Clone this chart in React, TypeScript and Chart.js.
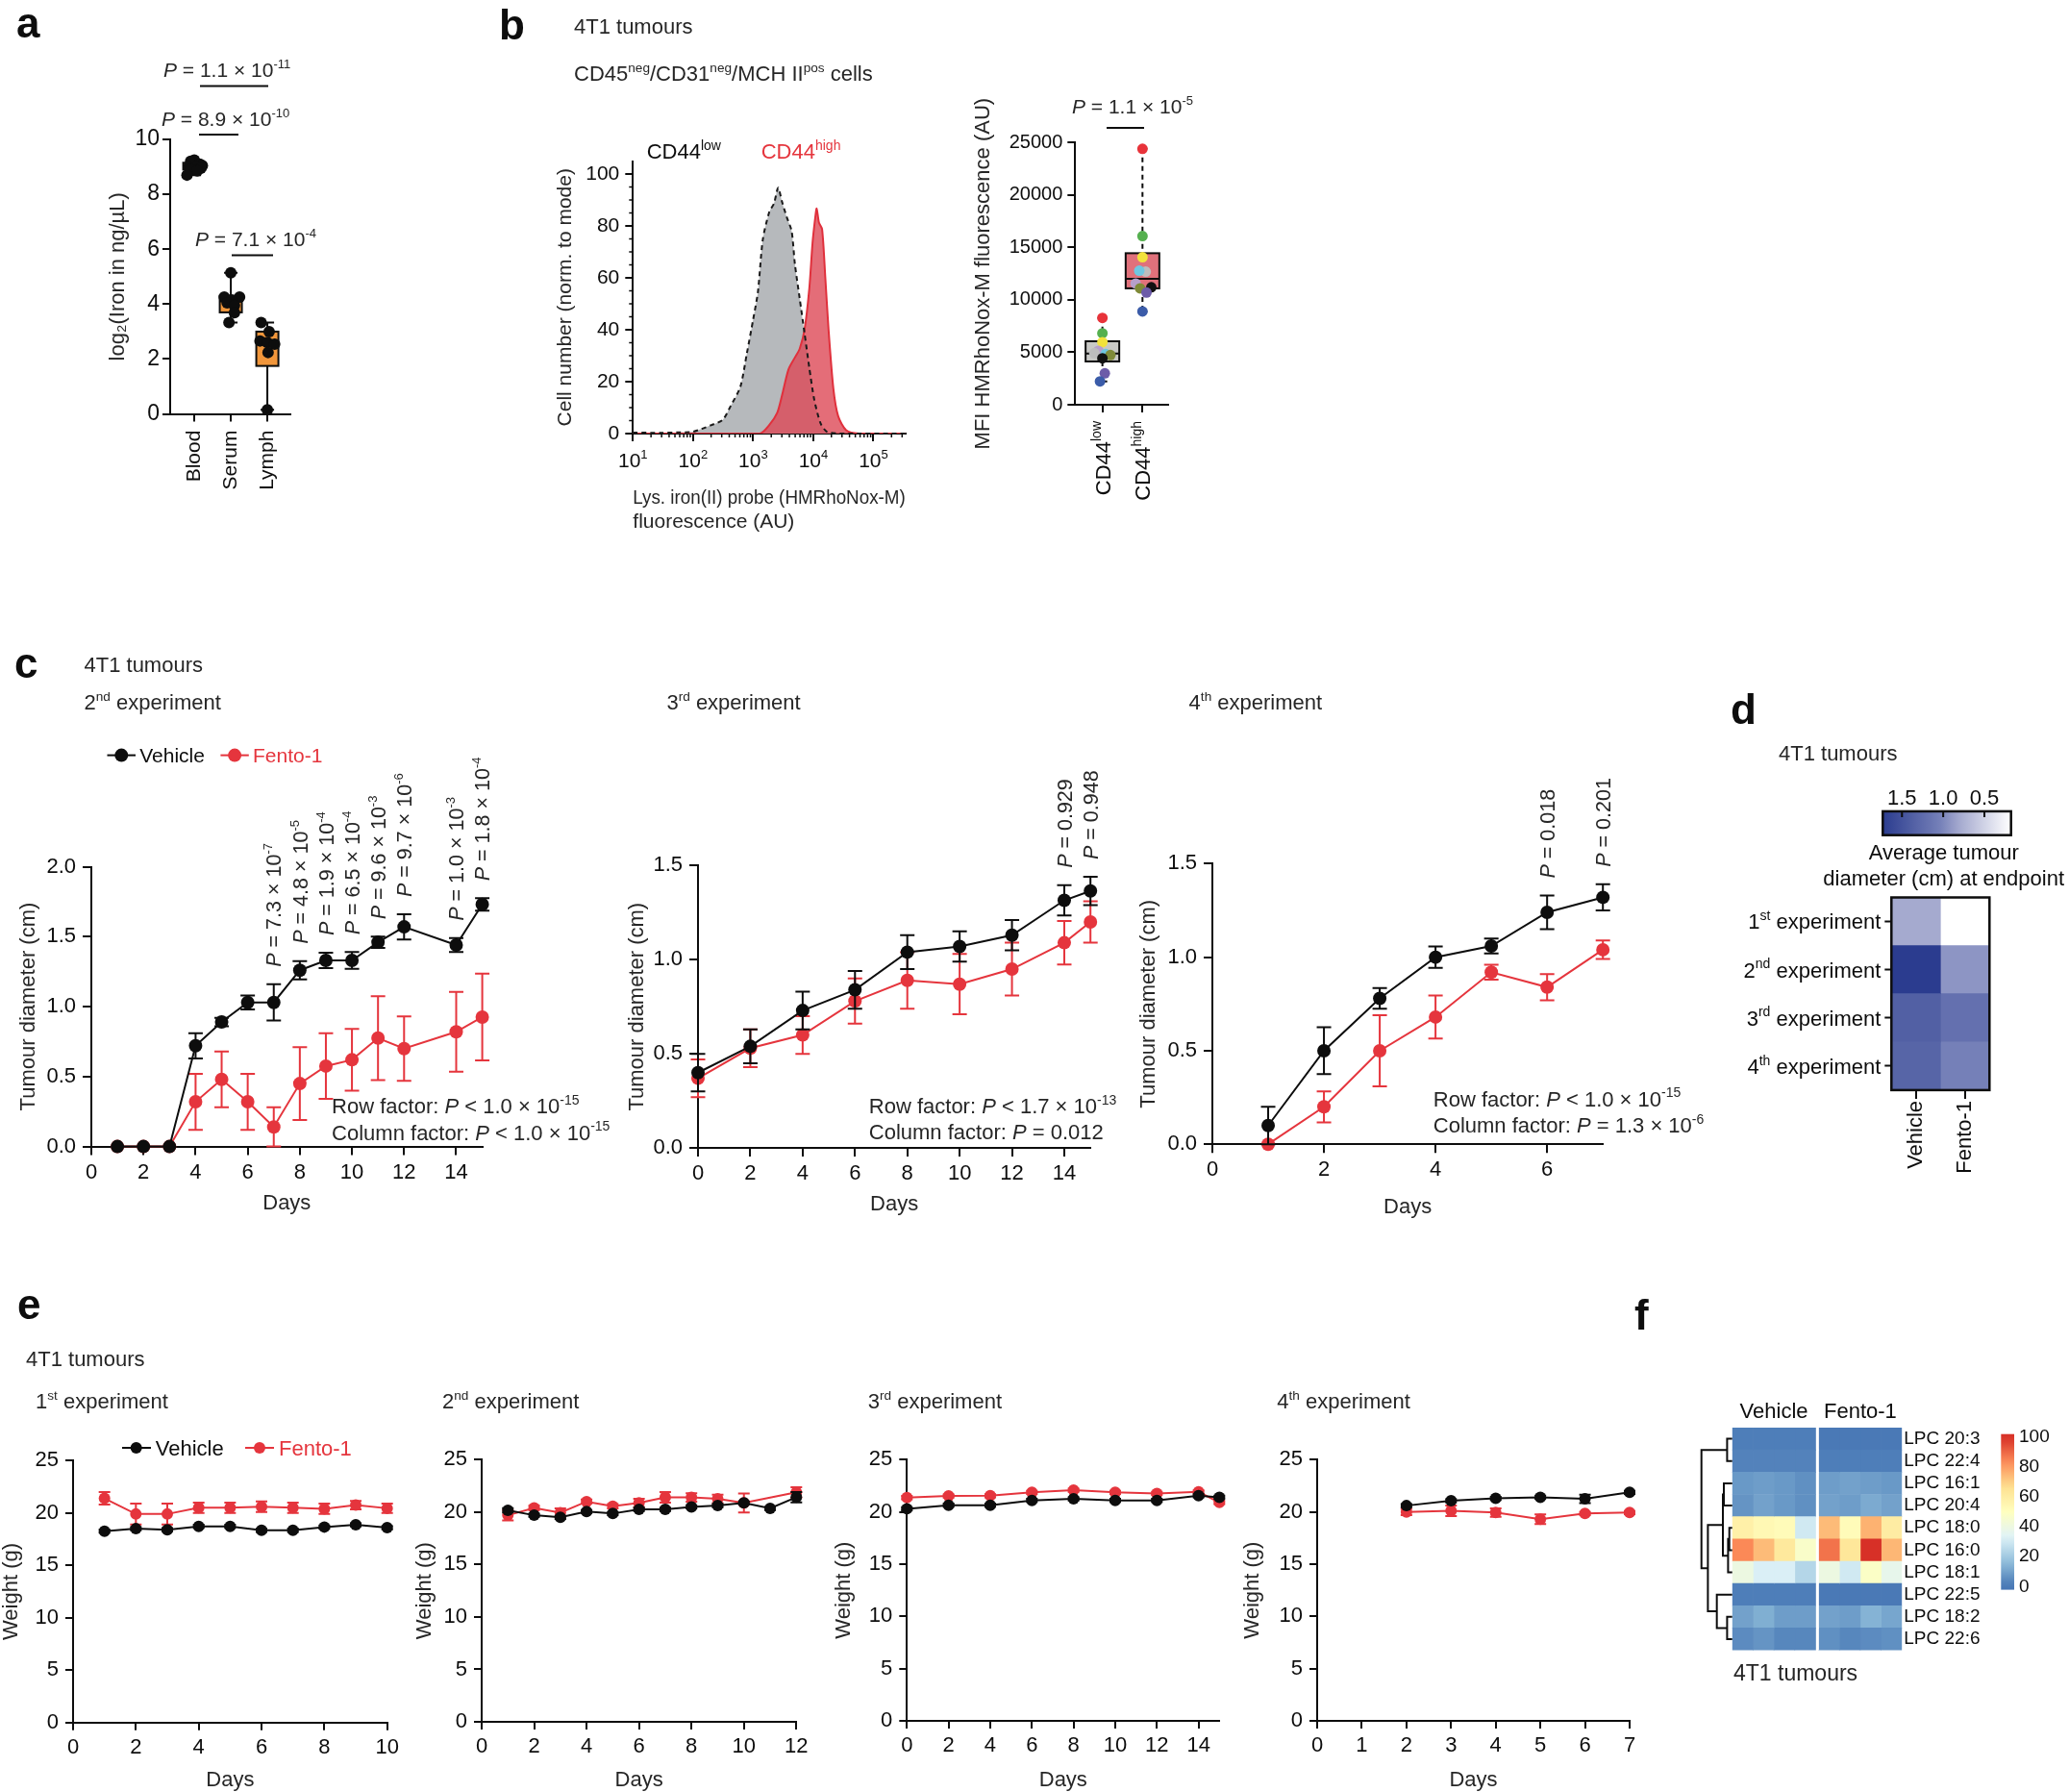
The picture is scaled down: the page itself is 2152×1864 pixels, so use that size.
import React, { useEffect, useRef } from 'react';
import { Chart, registerables } from 'chart.js';

Chart.register(...registerables);

const FONT = '"Liberation Sans", Arial, Helvetica, sans-serif';
Chart.defaults.font.family = FONT;

const INK = '#0d0d0d';
const TXT = '#262626';
const RED = '#E5353D';
const ORANGE = '#F1963B';

/* ================= DATA ================= */
/* ---- panel a ---- */
const aCategories = ['Blood', 'Serum', 'Lymph'];
const aTicksY = [0, 2, 4, 6, 8, 10];
const aBlood = [9.25, 9.2, 9.1, 9.05, 9.0, 9.0, 8.95, 8.9, 8.85, 8.7];
const aBloodJitter = [0, -0.1, 0.15, 0.22, -0.15, 0.05, 0.18, -0.1, 0.08, -0.2];
const aSerum = [5.14, 4.26, 4.26, 4.15, 4.05, 3.95, 3.69, 3.33];
const aSerumJitter = [0, -0.18, 0.24, 0.02, -0.1, 0.1, 0.1, -0.05];
const aLymph = [3.33, 3.0, 2.66, 2.6, 2.54, 2.24, 0.15];
const aLymphJitter = [-0.17, 0.05, -0.2, 0, 0.2, 0.02, 0];
const aQ1 = [8.9, 3.7, 1.75];
const aMedian = [9.02, 4.1, 2.55];
const aQ3 = [9.15, 4.3, 3.0];
const aMin = [8.7, 3.33, 0.15];
const aMax = [9.25, 5.14, 3.33];

/* ---- panel b histogram ---- */
const bHistTicksY = [0, 20, 40, 60, 80, 100];
const bHistDecades = [10, 100, 1000, 10000, 100000];
const bHistDecadeLabels = ['10^{1}', '10^{2}', '10^{3}', '10^{4}', '10^{5}'];
const bLowX = [10, 30, 60, 100, 203, 312, 424, 612, 783, 1000, 1202, 1445, 1849, 2223, 2606, 3020, 3631, 4365, 4943, 5943, 7145, 8590, 10328, 13183, 16866, 27542, 340000];
const bLowY = [0.4, 0.3, 0.5, 0.7, 3.3, 5.3, 10.7, 18, 30.7, 44, 54.7, 74.7, 85.3, 88.7, 94.7, 89.3, 83.3, 78, 65.3, 52, 38.7, 25.3, 13.3, 4, 0.7, 0, 0];
const bHighX = [10, 1279, 1849, 2512, 3020, 3864, 4943, 5943, 7145, 8590, 9705, 10715, 11376, 12417, 14028, 15849, 17947, 21577, 25942, 35237, 57544, 340000];
const bHighY = [0, 0, 3.3, 8, 14.7, 24.7, 29.3, 32.7, 40, 56, 73.3, 82.7, 86.7, 81.3, 78.7, 60, 40, 17.3, 6.7, 1.3, 0, 0];

/* ---- panel b box plot ---- */
const bBoxCats = ['CD44^{low}', 'CD44^{high}'];
const bBoxTicksY = [0, 5000, 10000, 15000, 20000, 25000];
const bDonorColors = ['#E8333A', '#55B04F', '#F2E23C', '#B79FCB', '#BDBDBD', '#6FC7E1', '#7F8A38', '#111111', '#6C5BA8', '#3B5CA9'];
const bLowVals = [8284, 6817, 5963, 5138, 4924, 4832, 4740, 4434, 3000, 2232];
const bLowJitter = [0, 0, 0, -0.1, -0.2, 0.08, 0.2, 0, 0.06, -0.06];
const bHighVals = [24400, 16083, 14064, 11560, 12688, 12780, 11100, 11200, 10700, 8900];
const bHighJitter = [0, 0, 0, -0.17, 0.08, -0.08, -0.06, 0.22, 0.1, 0];
const bQ1 = [4128, 11100];
const bMedian = [4880, 12000];
const bQ3 = [6055, 14450];
const bMin = [2232, 8900];
const bMax = [8284, 24400];

/* ---- panel c : tumour diameter ---- */
const cExp2Days = [1, 2, 3, 4, 5, 6, 7, 8, 9, 10, 11, 12, 14, 15];
const cExp2Vehicle = [0, 0, 0, 0.72, 0.89, 1.03, 1.03, 1.26, 1.33, 1.33, 1.46, 1.57, 1.44, 1.73];
const cExp2VehicleSem = [0, 0, 0, 0.09, 0.03, 0.05, 0.13, 0.065, 0.055, 0.06, 0.04, 0.09, 0.05, 0.045];
const cExp2Fento = [0, 0, 0, 0.32, 0.48, 0.32, 0.14, 0.45, 0.575, 0.62, 0.775, 0.7, 0.82, 0.925];
const cExp2FentoSem = [0, 0, 0, 0.2, 0.2, 0.2, 0.14, 0.26, 0.235, 0.22, 0.3, 0.23, 0.285, 0.31];
const cExp2PDays = [7, 8, 9, 10, 11, 12, 14, 15];
const cExp2P = ['7.3 × 10^{-7}', '4.8 × 10^{-5}', '1.9 × 10^{-4}', '6.5 × 10^{-4}', '9.6 × 10^{-3}', '9.7 × 10^{-6}', '1.0 × 10^{-3}', '1.8 × 10^{-4}'];

const cExp3Days = [0, 2, 4, 6, 8, 10, 12, 14, 15];
const cExp3Vehicle = [0.4, 0.54, 0.73, 0.84, 1.04, 1.07, 1.13, 1.315, 1.365];
const cExp3VehicleSem = [0.1, 0.09, 0.1, 0.1, 0.09, 0.08, 0.08, 0.08, 0.075];
const cExp3Fento = [0.37, 0.53, 0.6, 0.78, 0.89, 0.87, 0.95, 1.09, 1.2];
const cExp3FentoSem = [0.1, 0.1, 0.1, 0.12, 0.15, 0.16, 0.14, 0.115, 0.11];
const cExp3PDays = [14, 15];
const cExp3P = ['0.929', '0.948'];

const cExp4Days = [1, 2, 3, 4, 5, 6, 7];
const cExp4Vehicle = [0.1, 0.5, 0.78, 1.0, 1.06, 1.24, 1.32];
const cExp4VehicleSem = [0.1, 0.125, 0.055, 0.057, 0.04, 0.09, 0.07];
const cExp4Fento = [0, 0.2, 0.5, 0.68, 0.92, 0.84, 1.04];
const cExp4FentoSem = [0, 0.083, 0.19, 0.115, 0.04, 0.07, 0.05];
const cExp4PDays = [6, 7];
const cExp4P = ['0.018', '0.201'];

/* ---- panel d ---- */
const dRows = ['1^{st} experiment', '2^{nd} experiment', '3^{rd} experiment', '4^{th} experiment'];
const dCols = ['Vehicle', 'Fento-1'];
const dVehicle = [0.8, 1.73, 1.37, 1.32];
const dFento = [0.18, 0.92, 1.2, 1.04];
const dScaleTicks = [1.5, 1.0, 0.5];
const dScaleMin = 0.177;
const dScaleMax = 1.733;

/* ---- panel e : body weight ---- */
const eExp1Days = [1, 2, 3, 4, 5, 6, 7, 8, 9, 10];
const eExp1Vehicle = [18.26, 18.5, 18.4, 18.72, 18.72, 18.35, 18.35, 18.66, 18.87, 18.6];
const eExp1VehicleSem = [0.15, 0.15, 0.15, 0.15, 0.15, 0.15, 0.15, 0.15, 0.15, 0.15];
const eExp1Fento = [21.4, 19.9, 19.9, 20.5, 20.5, 20.6, 20.5, 20.4, 20.75, 20.45];
const eExp1FentoSem = [0.6, 1.0, 1.0, 0.5, 0.5, 0.5, 0.5, 0.5, 0.4, 0.45];

const eExp2VehicleDays = [1, 2, 3, 4, 5, 6, 7, 8, 9, 10, 11, 12];
const eExp2Vehicle = [20.17, 19.7, 19.5, 20.05, 19.86, 20.26, 20.26, 20.5, 20.62, 20.87, 20.35, 21.42];
const eExp2VehicleSem = [0.2, 0.15, 0.15, 0.15, 0.15, 0.15, 0.15, 0.15, 0.15, 0.15, 0.15, 0.5];
const eExp2FentoDays = [1, 2, 3, 4, 5, 6, 7, 8, 9, 10, 12];
const eExp2Fento = [19.7, 20.4, 19.95, 21.0, 20.56, 20.87, 21.4, 21.4, 21.26, 20.87, 21.88];
const eExp2FentoSem = [0.5, 0.2, 0.4, 0.2, 0.2, 0.4, 0.5, 0.4, 0.4, 0.9, 0.5];

const eExp3Days = [0, 2, 4, 6, 8, 10, 12, 14, 15];
const eExp3Vehicle = [20.3, 20.64, 20.64, 21.1, 21.25, 21.1, 21.1, 21.55, 21.4];
const eExp3VehicleSem = [0.15, 0.15, 0.15, 0.15, 0.15, 0.15, 0.15, 0.15, 0.15];
const eExp3Fento = [21.37, 21.53, 21.55, 21.87, 22.08, 21.87, 21.77, 21.92, 20.9];
const eExp3FentoSem = [0.15, 0.15, 0.15, 0.15, 0.15, 0.15, 0.15, 0.15, 0.15];

const eExp4Days = [2, 3, 4, 5, 6, 7];
const eExp4Vehicle = [20.6, 21.07, 21.3, 21.4, 21.25, 21.87];
const eExp4VehicleSem = [0.15, 0.15, 0.15, 0.15, 0.4, 0.15];
const eExp4Fento = [20.0, 20.1, 19.94, 19.3, 19.85, 19.94];
const eExp4FentoSem = [0.3, 0.5, 0.4, 0.45, 0.15, 0.15];
const eTicksY = [0, 5, 10, 15, 20, 25];

/* ---- panel f ---- */
const fLipids = ['LPC 20:3', 'LPC 22:4', 'LPC 16:1', 'LPC 20:4', 'LPC 18:0', 'LPC 16:0', 'LPC 18:1', 'LPC 22:5', 'LPC 18:2', 'LPC 22:6'];
const fGroups = ['Vehicle', 'Fento-1'];
const fVehicle = [
  [2, 2, 2, 2], [3, 3, 3, 3], [8, 9, 8, 6], [7, 10, 8, 6], [58, 54, 52, 30],
  [84, 74, 62, 47], [40, 32, 32, 24], [2, 2, 2, 2], [10, 13, 9, 9], [5, 7, 4, 4],
];
const fFento = [
  [1, 1, 1, 1], [2, 2, 2, 2], [9, 10, 9, 8], [10, 9, 12, 10], [74, 52, 76, 60],
  [88, 63, 100, 75], [40, 30, 48, 37], [1, 1, 1, 1], [10, 9, 14, 11], [6, 4, 5, 6],
];
const fScaleTicks = [0, 20, 40, 60, 80, 100];
const fMerges: [number, number, number][] = [
  [0, 1, 4.3], [2, 3, 7.7], [4, 5, 2.0], [12, 6, 3.3], [11, 13, 8.7], [8, 9, 4.3], [7, 15, 15], [14, 16, 24.3], [10, 17, 31],
];

/* ================= COLOUR RAMPS ================= */
const dRamp: [number, string][] = [[0.177, '#FFFFFF'], [0.8, '#A5AACF'], [1.04, '#7580B8'], [1.733, '#2B3C8F']];
const fRamp: [number, string][] = [[0, '#4575B4'], [16.67, '#91BFDB'], [33.33, '#E0F3F8'], [50, '#FFFFBF'], [66.67, '#FEE090'], [83.33, '#FC8D59'], [100, '#D73027']];

function hexRgb(h: string) {
  const n = parseInt(h.slice(1), 16);
  return [(n >> 16) & 255, (n >> 8) & 255, n & 255];
}
function ramp(stops: [number, string][], v: number) {
  if (v <= stops[0][0]) return stops[0][1];
  if (v >= stops[stops.length - 1][0]) return stops[stops.length - 1][1];
  for (let i = 0; i < stops.length - 1; i++) {
    const [v0, c0] = stops[i];
    const [v1, c1] = stops[i + 1];
    if (v >= v0 && v <= v1) {
      const t = (v - v0) / (v1 - v0);
      const a = hexRgb(c0), b = hexRgb(c1);
      return `rgb(${Math.round(a[0] + (b[0] - a[0]) * t)},${Math.round(a[1] + (b[1] - a[1]) * t)},${Math.round(a[2] + (b[2] - a[2]) * t)})`;
    }
  }
  return stops[0][1];
}

/* ================= RICH TEXT ================= */
type Seg = { t: string; sup?: boolean; sub?: boolean; it?: boolean };
function parseRich(s: string): Seg[] {
  const segs: Seg[] = [];
  let it = false;
  let buf = '';
  let i = 0;
  const push = () => { if (buf) { segs.push({ t: buf, it }); buf = ''; } };
  while (i < s.length) {
    const c = s[i];
    if (c === '*') { push(); it = !it; i++; continue; }
    if ((c === '^' || c === '_') && s[i + 1] === '{') {
      push();
      const end = s.indexOf('}', i + 2);
      segs.push({ t: s.slice(i + 2, end), it, sup: c === '^', sub: c === '_' });
      i = end + 1;
      continue;
    }
    buf += c;
    i++;
  }
  push();
  return segs;
}
interface RichOpts { size: number; color?: string; align?: 'left' | 'center' | 'right'; rot?: number; bold?: boolean }
function drawRich(ctx: CanvasRenderingContext2D, s: string, x: number, y: number, o: RichOpts) {
  const segs = parseRich(s);
  const size = o.size;
  const fontFor = (sg: Seg) => `${sg.it ? 'italic ' : ''}${o.bold ? 'bold ' : ''}${sg.sup || sg.sub ? Math.round(size * 0.62) : size}px ${FONT}`;
  ctx.save();
  ctx.translate(x, y);
  if (o.rot) ctx.rotate(o.rot);
  let total = 0;
  const widths = segs.map((sg) => { ctx.font = fontFor(sg); const w = ctx.measureText(sg.t).width; total += w; return w; });
  let cx = o.align === 'center' ? -total / 2 : o.align === 'right' ? -total : 0;
  ctx.fillStyle = o.color || INK;
  ctx.textBaseline = 'alphabetic';
  ctx.textAlign = 'left';
  const base = size * 0.36;
  segs.forEach((sg, k) => {
    ctx.font = fontFor(sg);
    const dy = sg.sup ? -size * 0.42 : sg.sub ? size * 0.22 : 0;
    ctx.fillText(sg.t, cx, base + dy);
    cx += widths[k];
  });
  ctx.restore();
}

/* ================= PLUGINS ================= */
interface TextItem extends RichOpts { t: string; x: number; y: number }
interface LineItem { x1: number; y1: number; x2: number; y2: number; color?: string; w?: number; dash?: number[] }
interface DotItem { x: number; y: number; r: number; color: string }
interface Annot { texts?: TextItem[]; lines?: LineItem[]; dots?: DotItem[] }

function annotPlugin(ox: number, oy: number, a: Annot) {
  return {
    id: 'annot',
    afterDraw(chart: any) {
      const ctx = chart.ctx as CanvasRenderingContext2D;
      (a.lines || []).forEach((l) => {
        ctx.save();
        ctx.strokeStyle = l.color || INK;
        ctx.lineWidth = l.w || 2;
        ctx.setLineDash(l.dash || []);
        ctx.beginPath();
        ctx.moveTo(l.x1 - ox, l.y1 - oy);
        ctx.lineTo(l.x2 - ox, l.y2 - oy);
        ctx.stroke();
        ctx.restore();
      });
      (a.dots || []).forEach((d) => {
        ctx.save();
        ctx.fillStyle = d.color;
        ctx.beginPath();
        ctx.arc(d.x - ox, d.y - oy, d.r, 0, Math.PI * 2);
        ctx.fill();
        ctx.restore();
      });
      (a.texts || []).forEach((t) => drawRich(ctx, t.t, t.x - ox, t.y - oy, t));
    },
  };
}

function errPlugin(errs: number[][], cap: number) {
  return {
    id: 'errbars',
    beforeDatasetDraw(chart: any, args: any) {
      const i = args.index;
      const e = errs[i];
      if (!e) return;
      const meta = chart.getDatasetMeta(i);
      const ds = chart.data.datasets[i];
      const ys = chart.scales.y;
      const ctx = chart.ctx as CanvasRenderingContext2D;
      ctx.save();
      ctx.strokeStyle = ds.borderColor;
      ctx.lineWidth = 2;
      meta.data.forEach((pt: any, k: number) => {
        const err = e[k];
        if (!err) return;
        const v = ds.data[k].y;
        const yTop = ys.getPixelForValue(v + err);
        const clipped = v - err < ys.min;
        const yBot = ys.getPixelForValue(Math.max(v - err, ys.min));
        ctx.beginPath();
        ctx.moveTo(pt.x, yTop);
        ctx.lineTo(pt.x, yBot);
        ctx.moveTo(pt.x - cap, yTop);
        ctx.lineTo(pt.x + cap, yTop);
        if (!clipped) {
          ctx.moveTo(pt.x - cap, yBot);
          ctx.lineTo(pt.x + cap, yBot);
        }
        ctx.stroke();
      });
      ctx.restore();
    },
  };
}

interface Series { label: string; days: number[]; vals: number[]; errs: number[]; color: string }

function pLabelPlugin(days: number[], texts: string[], size: number, gap: number, series: Series[]) {
  return {
    id: 'plabels',
    afterDatasetsDraw(chart: any) {
      const xs = chart.scales.x, ys = chart.scales.y;
      const ctx = chart.ctx as CanvasRenderingContext2D;
      days.forEach((d, i) => {
        let top = Infinity;
        series.forEach((s) => s.days.forEach((sd, k) => {
          if (sd === d) top = Math.min(top, ys.getPixelForValue(s.vals[k] + s.errs[k]));
        }));
        drawRich(ctx, `*P* = ${texts[i]}`, xs.getPixelForValue(d), top - gap, { size, rot: -Math.PI / 2, align: 'left', color: TXT });
      });
    },
  };
}

interface BoxSpec { pos: number; q1: number; med: number; q3: number; lo: number; hi: number; fill: string; dash: number[] }
function boxPlugin(boxes: BoxSpec[], halfW: number, capHalf: number) {
  return {
    id: 'boxes',
    beforeDatasetsDraw(chart: any) {
      const xs = chart.scales.x, ys = chart.scales.y;
      const ctx = chart.ctx as CanvasRenderingContext2D;
      boxes.forEach((b) => {
        const x = xs.getPixelForValue(b.pos);
        const y = (v: number) => ys.getPixelForValue(v);
        ctx.save();
        ctx.strokeStyle = INK;
        ctx.lineWidth = 2;
        ctx.setLineDash(b.dash);
        ctx.beginPath();
        ctx.moveTo(x, y(b.hi)); ctx.lineTo(x, y(b.q3));
        ctx.moveTo(x, y(b.q1)); ctx.lineTo(x, y(b.lo));
        ctx.stroke();
        ctx.setLineDash([]);
        ctx.beginPath();
        ctx.moveTo(x - capHalf, y(b.hi)); ctx.lineTo(x + capHalf, y(b.hi));
        ctx.moveTo(x - capHalf, y(b.lo)); ctx.lineTo(x + capHalf, y(b.lo));
        ctx.stroke();
        ctx.fillStyle = b.fill;
        ctx.fillRect(x - halfW, y(b.q3), 2 * halfW, y(b.q1) - y(b.q3));
        ctx.strokeRect(x - halfW, y(b.q3), 2 * halfW, y(b.q1) - y(b.q3));
        ctx.beginPath();
        ctx.moveTo(x - halfW, y(b.med)); ctx.lineTo(x + halfW, y(b.med));
        ctx.stroke();
        ctx.restore();
      });
    },
  };
}

/* ================= LAYOUT HELPERS ================= */
interface Geo { cx: number; cy: number; cw: number; ch: number; l: number; t: number; r: number; b: number; yTitleX?: number; xTitleY?: number; tsize: number }
function frame(g: Geo) {
  const lh = g.tsize * 1.2;
  const padL = g.yTitleX !== undefined ? g.yTitleX - g.cx - lh / 2 : 0;
  const wy = g.l - g.cx - padL;
  const bottomEdge = g.xTitleY !== undefined ? g.xTitleY + lh / 2 : g.cy + g.ch;
  return {
    padding: { left: padL, top: g.t - g.cy, right: g.cx + g.cw - g.r, bottom: g.cy + g.ch - bottomEdge },
    wy,
    hx: bottomEdge - g.b,
  };
}
function baseOpts(padding: any) {
  return {
    animation: false,
    responsive: false,
    maintainAspectRatio: false,
    events: [],
    layout: { padding },
    plugins: { legend: { display: false }, tooltip: { enabled: false } },
  };
}
interface AxisOpts {
  type?: string; pos?: string; min: number; max: number; ticks: number[]; size: number;
  fmt?: (v: number, i: number) => string; title?: string | string[]; titleSize?: number; titleAlign?: string;
  fitW?: number; fitH?: number; tickLen?: number; pad?: number; rot?: number; reverse?: boolean; border?: boolean; drawTicks?: boolean; stacked?: boolean; gridDisplay?: boolean;
}
function mkAxis(o: AxisOpts) {
  return {
    type: o.type || 'linear',
    position: o.pos,
    min: o.min,
    max: o.max,
    reverse: !!o.reverse,
    stacked: !!o.stacked,
    afterBuildTicks: (s: any) => { s.ticks = o.ticks.map((v) => ({ value: v })); },
    afterFit: (s: any) => {
      if (o.fitW !== undefined) s.width = o.fitW;
      if (o.fitH !== undefined) s.height = o.fitH;
    },
    border: { display: o.border !== false, color: INK, width: 2 },
    grid: { display: o.gridDisplay !== false, drawOnChartArea: false, drawTicks: o.drawTicks !== false, tickLength: o.tickLen ?? 8, tickColor: INK, tickWidth: 2, color: INK, lineWidth: 2 },
    ticks: {
      color: INK,
      font: { family: FONT, size: o.size },
      padding: o.pad ?? 3,
      autoSkip: false,
      maxRotation: o.rot ?? 0,
      minRotation: o.rot ?? 0,
      callback: (v: number, i: number) => (o.fmt ? o.fmt(v, i) : String(v)),
    },
    title: o.title
      ? { display: true, text: o.title, color: TXT, align: o.titleAlign || 'center', padding: 0, font: { family: FONT, size: o.titleSize || o.size, lineHeight: 1.2 } }
      : { display: false },
  };
}

/* ================= CHART CONFIGS ================= */
function growthChart(o: {
  geo: Geo; xMax: number; xTicks: number[]; yMax: number; yTicks: number[]; yDigits: number; yTitle: string;
  tickSize: number; tickPadY: number; tickPadX: number; tickLen: number; series: Series[]; pDays?: number[]; pTexts?: string[]; pSize?: number; pGap?: number; annot: Annot; radius: number; cap: number;
}) {
  const f = frame(o.geo);
  const plugins: any[] = [errPlugin(o.series.map((s) => s.errs), o.cap)];
  if (o.pDays && o.pTexts) plugins.push(pLabelPlugin(o.pDays, o.pTexts, o.pSize || 20, o.pGap ?? 15, o.series));
  plugins.push(annotPlugin(o.geo.cx, o.geo.cy, o.annot));
  return {
    type: 'line',
    data: {
      datasets: o.series.map((s, i) => ({
        label: s.label,
        data: s.days.map((d, k) => ({ x: d, y: s.vals[k] })),
        borderColor: s.color,
        backgroundColor: s.color,
        pointBackgroundColor: s.color,
        pointBorderColor: s.color,
        pointRadius: o.radius,
        pointBorderWidth: 0,
        borderWidth: 2,
        tension: 0,
        clip: false,
        fill: false,
        order: i,
      })),
    },
    options: {
      ...baseOpts(f.padding),
      scales: {
        x: mkAxis({ min: 0, max: o.xMax, ticks: o.xTicks, size: o.tickSize, pad: o.tickPadX, tickLen: o.tickLen, title: 'Days', titleSize: o.geo.tsize, fitH: f.hx }),
        y: mkAxis({ min: 0, max: o.yMax, ticks: o.yTicks, size: o.tickSize, pad: o.tickPadY, tickLen: o.tickLen, fmt: (v) => v.toFixed(o.yDigits), title: o.yTitle, titleSize: o.geo.tsize, fitW: f.wy }),
      },
    },
    plugins,
  };
}

const GEO_A: Geo = { cx: 0, cy: 50, cw: 340, ch: 510, l: 177, t: 145, r: 302, b: 430.6, yTitleX: 123, tsize: 22 };
function panelA() {
  const f = frame(GEO_A);
  const pts = [
    ...aBlood.map((v, i) => ({ x: 0 + aBloodJitter[i], y: v })),
    ...aSerum.map((v, i) => ({ x: 1 + aSerumJitter[i], y: v })),
    ...aLymph.map((v, i) => ({ x: 2 + aLymphJitter[i], y: v })),
  ];
  const boxes: BoxSpec[] = aQ1.map((q, i) => ({ pos: i, q1: q, med: aMedian[i], q3: aQ3[i], lo: aMin[i], hi: aMax[i], fill: ORANGE, dash: [] }));
  const annot: Annot = {
    texts: [
      { t: '*P* = 1.1 × 10^{-11}', x: 170, y: 72.5, size: 21, color: TXT },
      { t: '*P* = 8.9 × 10^{-10}', x: 168, y: 123, size: 21, color: TXT },
      { t: '*P* = 7.1 × 10^{-4}', x: 203, y: 248, size: 21, color: TXT },
    ],
    lines: [
      { x1: 208, y1: 89.5, x2: 279, y2: 89.5 },
      { x1: 207, y1: 140, x2: 248, y2: 140 },
      { x1: 241, y1: 265.5, x2: 284, y2: 265.5 },
    ],
  };
  return {
    type: 'scatter',
    data: { datasets: [{ data: pts, pointRadius: 6, pointBackgroundColor: INK, pointBorderWidth: 0, clip: false }] },
    options: {
      ...baseOpts(f.padding),
      scales: {
        x: mkAxis({ min: -0.66, max: 2.63, ticks: [0, 1, 2], size: 21, fmt: (_v, i) => aCategories[i], rot: 90, pad: 9, fitH: f.hx }),
        y: mkAxis({ min: 0, max: 10, ticks: aTicksY, size: 23, title: 'log₂(Iron in ng/µL)', titleSize: 22, fitW: f.wy }),
      },
    },
    plugins: [boxPlugin(boxes, 11.5, 7), annotPlugin(GEO_A.cx, GEO_A.cy, annot)],
  };
}

const GEO_BH: Geo = { cx: 560, cy: 100, cw: 420, ch: 460, l: 658.3, t: 167.5, r: 941.7, b: 451, yTitleX: 588, xTitleY: 543.4, tsize: 21 };
function panelBHist() {
  const f = frame(GEO_BH);
  const low = bLowX.map((x, i) => ({ x, y: bLowY[i] }));
  const high = bHighX.map((x, i) => ({ x, y: bHighY[i] }));
  const extras = {
    id: 'histExtras',
    afterDraw(chart: any) {
      const xs = chart.scales.x, ys = chart.scales.y;
      const ctx = chart.ctx as CanvasRenderingContext2D;
      const { left, bottom } = chart.chartArea;
      ctx.save();
      ctx.strokeStyle = INK;
      ctx.lineWidth = 1.5;
      ctx.beginPath();
      bHistDecades.forEach((d) => {
        for (let k = 2; k <= 9; k++) {
          const v = k * d;
          if (v > xs.max) break;
          const x = xs.getPixelForValue(v);
          ctx.moveTo(x, bottom);
          ctx.lineTo(x, bottom + 4);
        }
      });
      for (let v = 5; v <= 100; v += 5) {
        if (v % 20 === 0) continue;
        const y = ys.getPixelForValue(v);
        ctx.moveTo(left, y);
        ctx.lineTo(left - 4, y);
      }
      ctx.stroke();
      ctx.restore();
      bHistDecades.forEach((d, i) => drawRich(ctx, bHistDecadeLabels[i], xs.getPixelForValue(d), bottom + 27, { size: 21, align: 'center', color: INK }));
    },
  };
  const annot: Annot = {
    texts: [
      { t: 'CD44^{low}', x: 672.7, y: 157, size: 22, color: INK },
      { t: 'CD44^{high}', x: 791.7, y: 157, size: 22, color: RED },
    ],
  };
  return {
    type: 'line',
    data: {
      datasets: [
        { data: low, borderColor: '#1a1a1a', borderDash: [5, 4], borderWidth: 2, pointRadius: 0, fill: false, tension: 0.25, order: 0, clip: false },
        { data: high, borderColor: '#E0303C', backgroundColor: 'rgba(221,72,86,0.8)', borderWidth: 2, fill: 'origin', pointRadius: 0, tension: 0.25, order: 1 },
        { data: low, borderWidth: 0, borderColor: 'rgba(0,0,0,0)', backgroundColor: '#B6B9BC', fill: 'origin', pointRadius: 0, tension: 0.25, order: 2 },
      ],
    },
    options: {
      ...baseOpts(f.padding),
      scales: {
        x: mkAxis({ type: 'logarithmic', min: 10, max: 340000, ticks: bHistDecades, size: 21, fmt: () => '', title: ['Lys. iron(II) probe (HMRhoNox-M)', 'fluorescence (AU)'], titleSize: 21, titleAlign: 'start', fitH: f.hx }),
        y: mkAxis({ min: 0, max: 105, ticks: bHistTicksY, size: 21, pad: 6, title: 'Cell number (norm. to mode)', titleSize: 21, fitW: f.wy }),
      },
    },
    plugins: [extras, annotPlugin(GEO_BH.cx, GEO_BH.cy, annot)],
  };
}

const GEO_BB: Geo = { cx: 990, cy: 80, cw: 262, ch: 460, l: 1118.3, t: 148.3, r: 1215, b: 421, yTitleX: 1023.3, tsize: 22 };
function panelBBox() {
  const f = frame(GEO_BB);
  const pts = [
    ...bLowVals.map((v, i) => ({ x: 0 + bLowJitter[i], y: v })),
    ...bHighVals.map((v, i) => ({ x: 1 + bHighJitter[i], y: v })),
  ];
  const colors = [...bDonorColors, ...bDonorColors];
  const boxes: BoxSpec[] = bQ1.map((q, i) => ({ pos: i, q1: q, med: bMedian[i], q3: bQ3[i], lo: bMin[i], hi: bMax[i], fill: i === 0 ? '#C9C9C6' : '#E0717B', dash: [5, 4] }));
  const catLabels = {
    id: 'catLabels',
    afterDraw(chart: any) {
      const xs = chart.scales.x;
      const ctx = chart.ctx as CanvasRenderingContext2D;
      bBoxCats.forEach((c, i) => drawRich(ctx, c, xs.getPixelForValue(i), chart.chartArea.bottom + 17, { size: 22, rot: -Math.PI / 2, align: 'right', color: INK }));
    },
  };
  const annot: Annot = {
    texts: [{ t: '*P* = 1.1 × 10^{-5}', x: 1115, y: 110, size: 21, color: TXT }],
    lines: [{ x1: 1151, y1: 133, x2: 1190, y2: 133 }],
  };
  return {
    type: 'scatter',
    data: { datasets: [{ data: pts, pointRadius: 5.5, pointBackgroundColor: colors, pointBorderWidth: 0, clip: false }] },
    options: {
      ...baseOpts(f.padding),
      scales: {
        x: mkAxis({ min: -0.68, max: 1.64, ticks: [0, 1], size: 21, fmt: () => '', fitH: f.hx }),
        y: mkAxis({ min: 0, max: 25000, ticks: bBoxTicksY, size: 20, pad: 5, title: 'MFI HMRhoNox-M fluorescence (AU)', titleSize: 22, fitW: f.wy }),
      },
    },
    plugins: [boxPlugin(boxes, 17.5, 5), catLabels, annotPlugin(GEO_BB.cx, GEO_BB.cy, annot)],
  };
}

const GEO_C1: Geo = { cx: 0, cy: 740, cw: 660, ch: 530, l: 95, t: 901.5, r: 501.6, b: 1192.6, yTitleX: 29.5, xTitleY: 1251.7, tsize: 22 };
const GEO_C2: Geo = { cx: 645, cy: 740, cw: 540, ch: 530, l: 726, t: 900.3, r: 1134.2, b: 1194.1, yTitleX: 663.4, xTitleY: 1252.5, tsize: 22 };
const GEO_C3: Geo = { cx: 1175, cy: 740, cw: 615, ch: 530, l: 1261, t: 898.4, r: 1667.2, b: 1190.2, yTitleX: 1195.3, xTitleY: 1255.6, tsize: 22 };

function panelC1() {
  const series: Series[] = [
    { label: 'Vehicle', days: cExp2Days, vals: cExp2Vehicle, errs: cExp2VehicleSem, color: INK },
    { label: 'Fento-1', days: cExp2Days, vals: cExp2Fento, errs: cExp2FentoSem, color: RED },
  ];
  return growthChart({
    geo: GEO_C1, xMax: 15, xTicks: [0, 2, 4, 6, 8, 10, 12, 14], yMax: 2, yTicks: [0, 0.5, 1, 1.5, 2], yDigits: 1, yTitle: 'Tumour diameter (cm)',
    tickSize: 22, tickPadY: 7, tickPadX: 5, tickLen: 9, series, pDays: cExp2PDays, pTexts: cExp2P, pSize: 21.5, pGap: 18, radius: 7, cap: 7.5,
    annot: {
      lines: [{ x1: 111.5, y1: 785.6, x2: 141, y2: 785.6, color: INK }, { x1: 229.4, y1: 785.6, x2: 258.8, y2: 785.6, color: RED }],
      dots: [{ x: 126.3, y: 785.6, r: 7, color: INK }, { x: 244.1, y: 785.6, r: 7, color: RED }],
      texts: [
        { t: 'Vehicle', x: 145.2, y: 785.6, size: 21, color: INK },
        { t: 'Fento-1', x: 263, y: 785.6, size: 21, color: RED },
        { t: 'Row factor: *P* < 1.0 × 10^{-15}', x: 345.1, y: 1150.5, size: 22, color: TXT },
        { t: 'Column factor: *P* < 1.0 × 10^{-15}', x: 345.1, y: 1177.8, size: 22, color: TXT },
      ],
    },
  });
}
function panelC2() {
  const series: Series[] = [
    { label: 'Vehicle', days: cExp3Days, vals: cExp3Vehicle, errs: cExp3VehicleSem, color: INK },
    { label: 'Fento-1', days: cExp3Days, vals: cExp3Fento, errs: cExp3FentoSem, color: RED },
  ];
  return growthChart({
    geo: GEO_C2, xMax: 15, xTicks: [0, 2, 4, 6, 8, 10, 12, 14], yMax: 1.5, yTicks: [0, 0.5, 1, 1.5], yDigits: 1, yTitle: 'Tumour diameter (cm)',
    tickSize: 22, tickPadY: 7, tickPadX: 5, tickLen: 9, series, pDays: cExp3PDays, pTexts: cExp3P, pSize: 21.5, pGap: 18, radius: 7, cap: 7.5,
    annot: {
      texts: [
        { t: 'Row factor: *P* < 1.7 × 10^{-13}', x: 903.8, y: 1150.5, size: 22, color: TXT },
        { t: 'Column factor: *P* = 0.012', x: 903.8, y: 1176.6, size: 22, color: TXT },
      ],
    },
  });
}
function panelC3() {
  const series: Series[] = [
    { label: 'Vehicle', days: cExp4Days, vals: cExp4Vehicle, errs: cExp4VehicleSem, color: INK },
    { label: 'Fento-1', days: cExp4Days, vals: cExp4Fento, errs: cExp4FentoSem, color: RED },
  ];
  return growthChart({
    geo: GEO_C3, xMax: 7, xTicks: [0, 2, 4, 6], yMax: 1.5, yTicks: [0, 0.5, 1, 1.5], yDigits: 1, yTitle: 'Tumour diameter (cm)',
    tickSize: 22, tickPadY: 7, tickPadX: 5, tickLen: 9, series, pDays: cExp4PDays, pTexts: cExp4P, pSize: 21.5, pGap: 18, radius: 7, cap: 7.5,
    annot: {
      texts: [
        { t: 'Row factor: *P* < 1.0 × 10^{-15}', x: 1490.8, y: 1142.8, size: 22, color: TXT },
        { t: 'Column factor: *P* = 1.3 × 10^{-6}', x: 1490.8, y: 1170, size: 22, color: TXT },
      ],
    },
  });
}

const GEO_E1: Geo = { cx: -10, cy: 1480, cw: 440, ch: 390, l: 76, t: 1519.3, r: 402.7, b: 1791.7, yTitleX: 12, xTitleY: 1851.7, tsize: 22 };
const GEO_E2: Geo = { cx: 425, cy: 1480, cw: 430, ch: 390, l: 501, t: 1518.3, r: 828.3, b: 1791, yTitleX: 442, xTitleY: 1851.7, tsize: 22 };
const GEO_E3: Geo = { cx: 860, cy: 1480, cw: 430, ch: 390, l: 943.3, t: 1518.3, r: 1268.3, b: 1790, yTitleX: 878, xTitleY: 1851.7, tsize: 22 };
const GEO_E4: Geo = { cx: 1285, cy: 1480, cw: 430, ch: 390, l: 1370, t: 1518.3, r: 1695, b: 1790, yTitleX: 1303, xTitleY: 1851.7, tsize: 22 };

function weightChart(geo: Geo, series: Series[], xMax: number, xTicks: number[], annot: Annot) {
  return growthChart({
    geo, xMax, xTicks, yMax: 25, yTicks: eTicksY, yDigits: 0, yTitle: 'Weight (g)', tickSize: 22, tickPadY: 7, tickPadX: 5, tickLen: 8,
    series, radius: 6, cap: 6, annot,
  });
}
function panelE1() {
  return weightChart(GEO_E1, [
    { label: 'Vehicle', days: eExp1Days, vals: eExp1Vehicle, errs: eExp1VehicleSem, color: INK },
    { label: 'Fento-1', days: eExp1Days, vals: eExp1Fento, errs: eExp1FentoSem, color: RED },
  ], 10, [0, 2, 4, 6, 8, 10], {
    lines: [{ x1: 127, y1: 1506, x2: 157, y2: 1506, color: INK }, { x1: 255, y1: 1506, x2: 285, y2: 1506, color: RED }],
    dots: [{ x: 141.7, y: 1506, r: 6, color: INK }, { x: 270, y: 1506, r: 6, color: RED }],
    texts: [
      { t: 'Vehicle', x: 161.7, y: 1506, size: 22, color: INK },
      { t: 'Fento-1', x: 290, y: 1506, size: 22, color: RED },
    ],
  });
}
function panelE2() {
  return weightChart(GEO_E2, [
    { label: 'Vehicle', days: eExp2VehicleDays, vals: eExp2Vehicle, errs: eExp2VehicleSem, color: INK },
    { label: 'Fento-1', days: eExp2FentoDays, vals: eExp2Fento, errs: eExp2FentoSem, color: RED },
  ], 12, [0, 2, 4, 6, 8, 10, 12], {});
}
function panelE3() {
  return weightChart(GEO_E3, [
    { label: 'Vehicle', days: eExp3Days, vals: eExp3Vehicle, errs: eExp3VehicleSem, color: INK },
    { label: 'Fento-1', days: eExp3Days, vals: eExp3Fento, errs: eExp3FentoSem, color: RED },
  ], 15, [0, 2, 4, 6, 8, 10, 12, 14], {});
}
function panelE4() {
  return weightChart(GEO_E4, [
    { label: 'Vehicle', days: eExp4Days, vals: eExp4Vehicle, errs: eExp4VehicleSem, color: INK },
    { label: 'Fento-1', days: eExp4Days, vals: eExp4Fento, errs: eExp4FentoSem, color: RED },
  ], 7, [0, 1, 2, 3, 4, 5, 6, 7], {});
}

const GEO_DH: Geo = { cx: 1780, cy: 905, cw: 372, ch: 340, l: 1967.3, t: 933.5, r: 2069.3, b: 1133.9, tsize: 22 };
function panelDHeat() {
  const f = frame(GEO_DH);
  const colD = (v: number) => ramp(dRamp, v);
  const extras = {
    id: 'dExtras',
    afterDraw(chart: any) {
      const ctx = chart.ctx as CanvasRenderingContext2D;
      const { left, top, right, bottom } = chart.chartArea;
      ctx.save();
      ctx.strokeStyle = INK;
      ctx.lineWidth = 2.5;
      ctx.strokeRect(left, top, right - left, bottom - top);
      ctx.restore();
      const ys = chart.scales.y;
      dRows.forEach((r, i) => drawRich(ctx, r, left - 11, ys.getPixelForValue(i), { size: 22, align: 'right', color: INK }));
    },
  };
  return {
    type: 'bar',
    data: {
      labels: dRows,
      datasets: [
        { label: dCols[0], data: dVehicle.map(() => 1), backgroundColor: dVehicle.map(colD), borderWidth: 0, barPercentage: 1, categoryPercentage: 1 },
        { label: dCols[1], data: dFento.map(() => 1), backgroundColor: dFento.map(colD), borderWidth: 0, barPercentage: 1, categoryPercentage: 1 },
      ],
    },
    options: {
      ...baseOpts(f.padding),
      indexAxis: 'y',
      scales: {
        x: mkAxis({ min: 0, max: 2, ticks: [0.5, 1.5], size: 22, fmt: (_v, i) => dCols[i], rot: 90, tickLen: 9, pad: 2, fitH: f.hx, border: false, stacked: true }),
        y: {
          type: 'category',
          stacked: true,
          afterFit: (s: any) => { s.width = f.wy; },
          border: { display: false },
          grid: { display: true, drawOnChartArea: false, offset: false, drawTicks: true, tickLength: 7, tickColor: INK, tickWidth: 2 },
          ticks: { color: 'rgba(0,0,0,0)', font: { family: FONT, size: 22 }, autoSkip: false },
        },
      },
    },
    plugins: [extras],
  };
}

function panelDBar() {
  const colD = (v: number) => ramp(dRamp, v);
  const extras = {
    id: 'dBar',
    beforeDatasetsDraw(chart: any) {
      const ctx = chart.ctx as CanvasRenderingContext2D;
      const xs = chart.scales.x;
      const { left, top, right, bottom } = chart.chartArea;
      const g = ctx.createLinearGradient(left, 0, right, 0);
      for (let k = 0; k <= 20; k++) g.addColorStop(k / 20, colD(xs.getValueForPixel(left + (k / 20) * (right - left))));
      ctx.save();
      ctx.fillStyle = g;
      ctx.fillRect(left, top, right - left, bottom - top);
      ctx.strokeStyle = INK;
      ctx.lineWidth = 2.5;
      ctx.strokeRect(left, top, right - left, bottom - top);
      ctx.lineWidth = 2;
      ctx.beginPath();
      dScaleTicks.forEach((v) => { const x = xs.getPixelForValue(v); ctx.moveTo(x, top); ctx.lineTo(x, top + 6); });
      ctx.stroke();
      ctx.restore();
    },
  };
  return {
    type: 'scatter',
    data: { datasets: [] },
    options: {
      ...baseOpts({ left: 58.3, top: 0, right: 60.3, bottom: 16.3 }),
      scales: {
        x: mkAxis({ pos: 'top', min: dScaleMin, max: dScaleMax, reverse: true, ticks: dScaleTicks, size: 22, fmt: (v) => v.toFixed(1), drawTicks: false, gridDisplay: false, pad: 0, border: false, fitH: 48.9 }),
        y: { display: false, min: 0, max: 1 },
      },
    },
    plugins: [extras],
  };
}

function panelFHeat() {
  const colF = (v: number) => ramp(fRamp, v);
  const cols: any[] = [];
  for (let c = 0; c < 4; c++) cols.push({ data: fLipids.map(() => 1), backgroundColor: fVehicle.map((r) => colF(r[c])) });
  cols.push({ data: fLipids.map(() => 0.14), backgroundColor: '#FFFFFF' });
  for (let c = 0; c < 4; c++) cols.push({ data: fLipids.map(() => 1), backgroundColor: fFento.map((r) => colF(r[c])) });
  const dendro = {
    id: 'dendro',
    afterDraw(chart: any) {
      const ys = chart.scales.y;
      const ctx = chart.ctx as CanvasRenderingContext2D;
      const left = chart.chartArea.left;
      const pos = fLipids.map((_, i) => ({ x: left, y: ys.getPixelForValue(i) }));
      ctx.save();
      ctx.strokeStyle = INK;
      ctx.lineWidth = 2;
      fMerges.forEach(([a, b, h]) => {
        const A = pos[a], B = pos[b];
        const x = left - 1 - h;
        ctx.beginPath();
        ctx.moveTo(A.x, A.y); ctx.lineTo(x, A.y); ctx.lineTo(x, B.y); ctx.lineTo(B.x, B.y);
        ctx.stroke();
        pos.push({ x, y: (A.y + B.y) / 2 });
      });
      ctx.restore();
    },
  };
  return {
    type: 'bar',
    data: {
      labels: fLipids,
      datasets: cols.map((c) => ({ ...c, borderWidth: 0, barPercentage: 1, categoryPercentage: 1 })),
    },
    options: {
      ...baseOpts({ left: 81.7, top: 0, right: 0, bottom: 12.7 }),
      indexAxis: 'y',
      scales: {
        x: mkAxis({ pos: 'top', min: 0, max: 8.14, ticks: [2, 6.14], size: 22, fmt: (_v, i) => fGroups[i], drawTicks: false, gridDisplay: false, pad: 2.5, border: false, fitH: 45, stacked: true }),
        y: {
          type: 'category',
          position: 'right',
          stacked: true,
          afterFit: (s: any) => { s.width = 103.7; },
          grid: { display: false, drawTicks: false },
          border: { display: false },
          ticks: { color: INK, font: { family: FONT, size: 19 }, padding: 2, autoSkip: false },
        },
      },
    },
    plugins: [dendro],
  };
}

function panelFBar() {
  const colF = (v: number) => ramp(fRamp, v);
  const extras = {
    id: 'fBar',
    beforeDatasetsDraw(chart: any) {
      const ctx = chart.ctx as CanvasRenderingContext2D;
      const ys = chart.scales.y;
      const { left, top, right, bottom } = chart.chartArea;
      const g = ctx.createLinearGradient(0, bottom, 0, top);
      for (let k = 0; k <= 20; k++) g.addColorStop(k / 20, colF(ys.getValueForPixel(bottom - (k / 20) * (bottom - top))));
      ctx.save();
      ctx.fillStyle = g;
      ctx.fillRect(left, top, right - left, bottom - top);
      ctx.restore();
    },
  };
  return {
    type: 'scatter',
    data: { datasets: [] },
    options: {
      ...baseOpts({ left: 1.3, top: 21.7, right: 0, bottom: 15 }),
      scales: {
        x: { display: false, min: 0, max: 1 },
        y: mkAxis({ pos: 'right', min: -2.1, max: 102.1, ticks: fScaleTicks, size: 19, drawTicks: false, gridDisplay: false, pad: 5, border: false, fitW: 57 }),
      },
    },
    plugins: [extras],
  };
}

/* ================= COMPONENTS ================= */
function ChartBox({ x, y, w, h, make }: { x: number; y: number; w: number; h: number; make: () => any }) {
  const ref = useRef<HTMLCanvasElement>(null);
  useEffect(() => {
    const chart = new Chart(ref.current as HTMLCanvasElement, make());
    return () => chart.destroy();
  }, []);
  return <canvas ref={ref} width={w} height={h} style={{ position: 'absolute', left: x, top: y, width: w, height: h }} />;
}

function SvgText({ x, y, s, size, anchor = 'start', color = TXT, bold = false }: any) {
  const segs = parseRich(s);
  let cur = 0;
  return (
    <text x={x} y={y} fontSize={size} textAnchor={anchor} fill={color} fontWeight={bold ? 700 : 400} fontFamily={FONT} style={{ whiteSpace: 'pre' }}>
      {segs.map((sg, i) => {
        const target = sg.sup ? -size * 0.42 : sg.sub ? size * 0.22 : 0;
        const dy = target - cur;
        cur = target;
        return (
          <tspan key={i} dy={dy} fontSize={sg.sup || sg.sub ? size * 0.62 : size} fontStyle={sg.it ? 'italic' : 'normal'}>
            {sg.t}
          </tspan>
        );
      })}
    </text>
  );
}

const overlayTexts = [
  { s: 'a', x: 17, y: 39, size: 44, bold: true, color: INK },
  { s: 'b', x: 519, y: 41, size: 44, bold: true, color: INK },
  { s: 'c', x: 15, y: 705, size: 44, bold: true, color: INK },
  { s: 'd', x: 1800, y: 753, size: 44, bold: true, color: INK },
  { s: 'e', x: 18, y: 1372, size: 44, bold: true, color: INK },
  { s: 'f', x: 1700, y: 1383, size: 44, bold: true, color: INK },
  { s: '4T1 tumours', x: 597, y: 35, size: 22 },
  { s: 'CD45^{neg}/CD31^{neg}/MCH II^{pos} cells', x: 597, y: 84, size: 22 },
  { s: '4T1 tumours', x: 87.5, y: 699, size: 22 },
  { s: '2^{nd} experiment', x: 87.5, y: 738, size: 22 },
  { s: '3^{rd} experiment', x: 693.4, y: 738, size: 22 },
  { s: '4^{th} experiment', x: 1236.6, y: 738, size: 22 },
  { s: '4T1 tumours', x: 1850, y: 790.5, size: 22 },
  { s: 'Average tumour', x: 2021.7, y: 894, size: 22, anchor: 'middle', color: INK },
  { s: 'diameter (cm) at endpoint', x: 2021.7, y: 920.7, size: 22, anchor: 'middle', color: INK },
  { s: '4T1 tumours', x: 27, y: 1421, size: 22 },
  { s: '1^{st} experiment', x: 37, y: 1465, size: 22 },
  { s: '2^{nd} experiment', x: 460, y: 1465, size: 22 },
  { s: '3^{rd} experiment', x: 902.7, y: 1465, size: 22 },
  { s: '4^{th} experiment', x: 1328.3, y: 1465, size: 22 },
  { s: '4T1 tumours', x: 1803, y: 1748, size: 23 },
];

export default function App() {
  return (
    <div style={{ position: 'absolute', left: 0, top: 0, width: 2152, height: 1864, background: '#ffffff', overflow: 'hidden' }}>
      <ChartBox x={GEO_A.cx} y={GEO_A.cy} w={GEO_A.cw} h={GEO_A.ch} make={panelA} />
      <ChartBox x={GEO_BH.cx} y={GEO_BH.cy} w={GEO_BH.cw} h={GEO_BH.ch} make={panelBHist} />
      <ChartBox x={GEO_BB.cx} y={GEO_BB.cy} w={GEO_BB.cw} h={GEO_BB.ch} make={panelBBox} />
      <ChartBox x={GEO_C1.cx} y={GEO_C1.cy} w={GEO_C1.cw} h={GEO_C1.ch} make={panelC1} />
      <ChartBox x={GEO_C2.cx} y={GEO_C2.cy} w={GEO_C2.cw} h={GEO_C2.ch} make={panelC2} />
      <ChartBox x={GEO_C3.cx} y={GEO_C3.cy} w={GEO_C3.cw} h={GEO_C3.ch} make={panelC3} />
      <ChartBox x={GEO_DH.cx} y={GEO_DH.cy} w={GEO_DH.cw} h={GEO_DH.ch} make={panelDHeat} />
      <ChartBox x={1900} y={795} w={252} h={90} make={panelDBar} />
      <ChartBox x={GEO_E1.cx} y={GEO_E1.cy} w={GEO_E1.cw} h={GEO_E1.ch} make={panelE1} />
      <ChartBox x={GEO_E2.cx} y={GEO_E2.cy} w={GEO_E2.cw} h={GEO_E2.ch} make={panelE2} />
      <ChartBox x={GEO_E3.cx} y={GEO_E3.cy} w={GEO_E3.cw} h={GEO_E3.ch} make={panelE3} />
      <ChartBox x={GEO_E4.cx} y={GEO_E4.cy} w={GEO_E4.cw} h={GEO_E4.ch} make={panelE4} />
      <ChartBox x={1720} y={1440} w={362} h={290} make={panelFHeat} />
      <ChartBox x={2080} y={1470} w={72} h={200} make={panelFBar} />
      <svg width={2152} height={1864} style={{ position: 'absolute', left: 0, top: 0, pointerEvents: 'none' }}>
        {overlayTexts.map((t, i) => (
          <SvgText key={i} {...t} />
        ))}
      </svg>
    </div>
  );
}
